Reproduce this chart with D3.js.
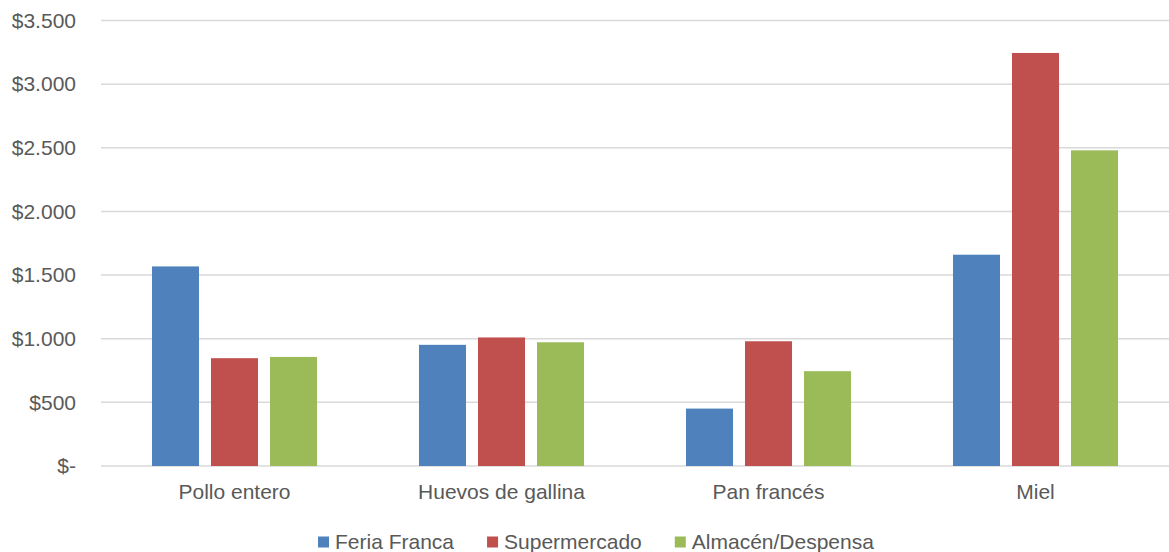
<!DOCTYPE html>
<html>
<head>
<meta charset="utf-8">
<script src="https://cdn.jsdelivr.net/npm/d3@7"></script>
<style>
  html, body { margin: 0; padding: 0; background: #fff; }
  svg { display: block; font-family: "Liberation Sans", Arial, Helvetica, sans-serif; }
</style>
</head>
<body>
<svg id="chart" width="1169" height="552"></svg>
<script>
const categories = ["Pollo entero", "Huevos de gallina", "Pan francés", "Miel"];
const seriesNames = ["Feria Franca", "Supermercado", "Almacén/Despensa"];
const feriaFranca = [1568, 952, 451, 1660];
const supermercado = [847, 1010, 980, 3245];
const almacen = [857, 972, 745, 2480];
const yTicks = [0, 500, 1000, 1500, 2000, 2500, 3000, 3500];
const yTickLabels = ["$-", "$500", "$1.000", "$1.500", "$2.000", "$2.500", "$3.000", "$3.500"];
const colors = ["#4f81bd", "#c0504d", "#9bbb59"];

const seriesValues = [feriaFranca, supermercado, almacen];
const svg = d3.select("#chart");
const plot = { left: 101, right: 1169, top: 20.5, bottom: 466 };
const textColor = "#595959";

const x0 = d3.scaleBand().domain(categories).range([plot.left, plot.right]).paddingInner(0).paddingOuter(0);
const x1 = d3.scaleBand().domain(seriesNames).range([0, x0.bandwidth()]).paddingInner(0.203).paddingOuter(0.864);
const y = d3.scaleLinear().domain([0, 3500]).range([plot.bottom, plot.top]);

// gridlines
svg.append("g").selectAll("line").data(yTicks).join("line")
  .attr("x1", plot.left).attr("x2", plot.right)
  .attr("y1", d => y(d)).attr("y2", d => y(d))
  .attr("stroke", "#d9d9d9").attr("stroke-width", 1.5);

// y axis labels
const yAxis = d3.axisLeft(y).tickValues(yTicks).tickSize(0).tickPadding(0)
  .tickFormat((d, i) => yTickLabels[i]);
const ya = svg.append("g").attr("transform", `translate(76,0)`).call(yAxis);
ya.select(".domain").remove();
ya.selectAll("text").attr("fill", textColor).style("font-size", "21px")
  .style("font-family", "'Liberation Sans', Arial, sans-serif");

// bars
const groups = svg.append("g").selectAll("g").data(categories).join("g")
  .attr("transform", d => `translate(${x0(d)},0)`);
groups.selectAll("rect").data((c, ci) => seriesNames.map((s, si) => ({ s, si, v: seriesValues[si][ci] })))
  .join("rect")
  .attr("x", d => x1(d.s))
  .attr("width", x1.bandwidth())
  .attr("y", d => y(d.v))
  .attr("height", d => y(0) - y(d.v))
  .attr("fill", d => colors[d.si]);

// x axis labels
const xAxis = d3.axisBottom(x0).tickSize(0).tickPadding(0);
const xa = svg.append("g").attr("transform", `translate(0,${plot.bottom})`).call(xAxis);
xa.select(".domain").remove();
xa.selectAll("text").attr("fill", textColor).attr("dy", null).attr("y", 33)
  .style("font-size", "21px").style("font-family", "'Liberation Sans', Arial, sans-serif");

// legend
const legend = svg.append("g");
let lx = 318;
seriesNames.forEach((name, i) => {
  legend.append("rect").attr("x", lx).attr("y", 536.5).attr("width", 11).attr("height", 11).attr("fill", colors[i]);
  const t = legend.append("text").attr("x", lx + 17).attr("y", 548.5)
    .attr("fill", textColor).style("font-size", "21px").text(name);
  const w = t.node().getComputedTextLength();
  lx = lx + 17 + w + 33;
});
</script>
</body>
</html>
